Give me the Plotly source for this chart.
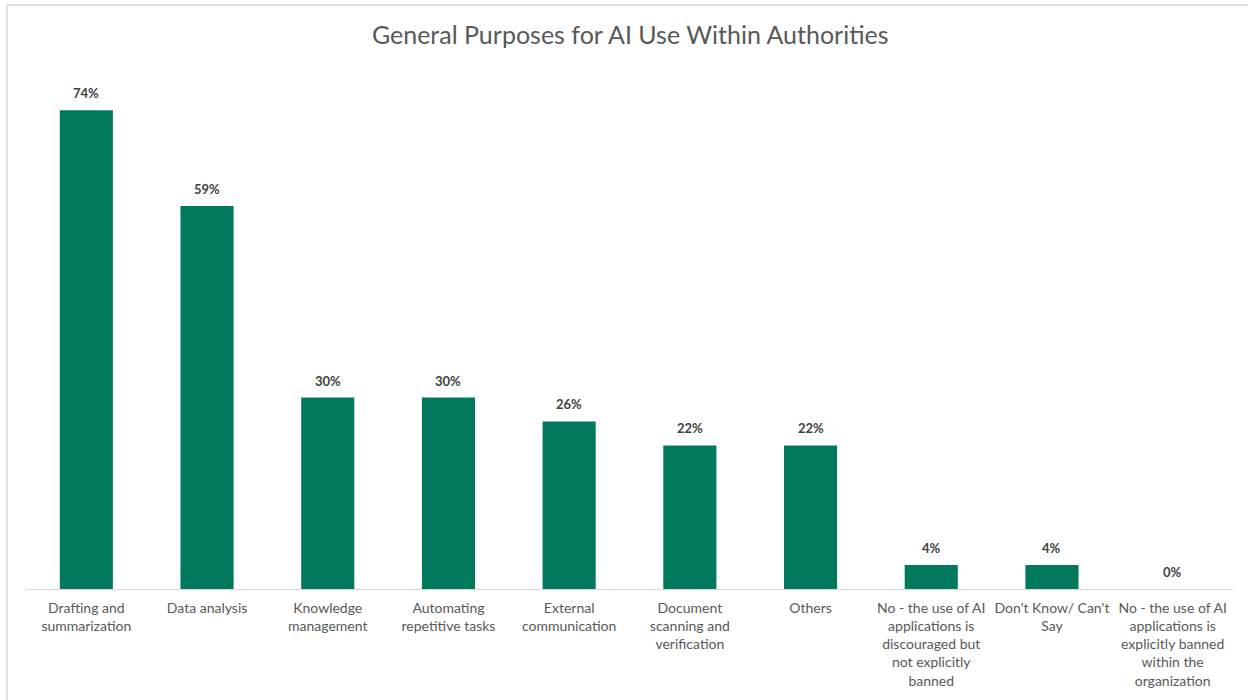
import plotly.graph_objects as go

categories = [
    "Drafting and<br>summarization",
    "Data analysis",
    "Knowledge<br>management",
    "Automating<br>repetitive tasks",
    "External<br>communication",
    "Document<br>scanning and<br>verification",
    "Others",
    "No - the use of AI<br>applications is<br>discouraged but<br>not explicitly<br>banned",
    "Don't Know/ Can't<br>Say",
    "No - the use of AI<br>applications is<br>explicitly banned<br>within the<br>organization",
]
values = [74.07, 59.26, 29.63, 29.63, 25.93, 22.22, 22.22, 3.70, 3.70, 0.0]
labels = [f"{round(v)}%" for v in values]

title_text = "General Purposes for AI Use Within Authorities"
bar_color = "#00795C"
font_family = "Lato, 'Open Sans', sans-serif"

fig = go.Figure()
fig.add_trace(go.Bar(
    x=categories,
    y=values,
    marker=dict(color=bar_color, line=dict(width=0)),
    width=0.44,
    hoverinfo="x+y",
))

for c, v, t in zip(categories, values, labels):
    fig.add_annotation(
        x=c, y=v, text=f"<b>{t}</b>", showarrow=False,
        yanchor="bottom", yshift=7,
        font=dict(family=font_family, size=13, color="#404040"),
    )

fig.update_layout(
    width=1248, height=700,
    margin=dict(l=26, r=15, t=72, b=111),
    paper_bgcolor="white", plot_bgcolor="white",
    title=dict(text=title_text, x=0.505, xanchor="center", y=0.95, yanchor="middle",
               font=dict(family=font_family, size=25, color="#595959")),
    showlegend=False,
    bargap=0.56,
    font=dict(family=font_family),
)
fig.update_xaxes(
    showline=True, linecolor="#d9d9d9", linewidth=1,
    ticks="", showgrid=False,
    tickfont=dict(family=font_family, size=14, color="#595959"),
    tickangle=0,
    ticklabelstandoff=6,
)
fig.update_yaxes(range=[0, 80], visible=False, showgrid=False)

fig.add_shape(
    type="rect", xref="paper", yref="paper",
    x0=-0.0158, x1=1.05, y0=-0.25, y1=1.1296,
    line=dict(color="#d9d9d9", width=1.5), fillcolor="rgba(0,0,0,0)", layer="below",
)

fig.write_html("out.html")
